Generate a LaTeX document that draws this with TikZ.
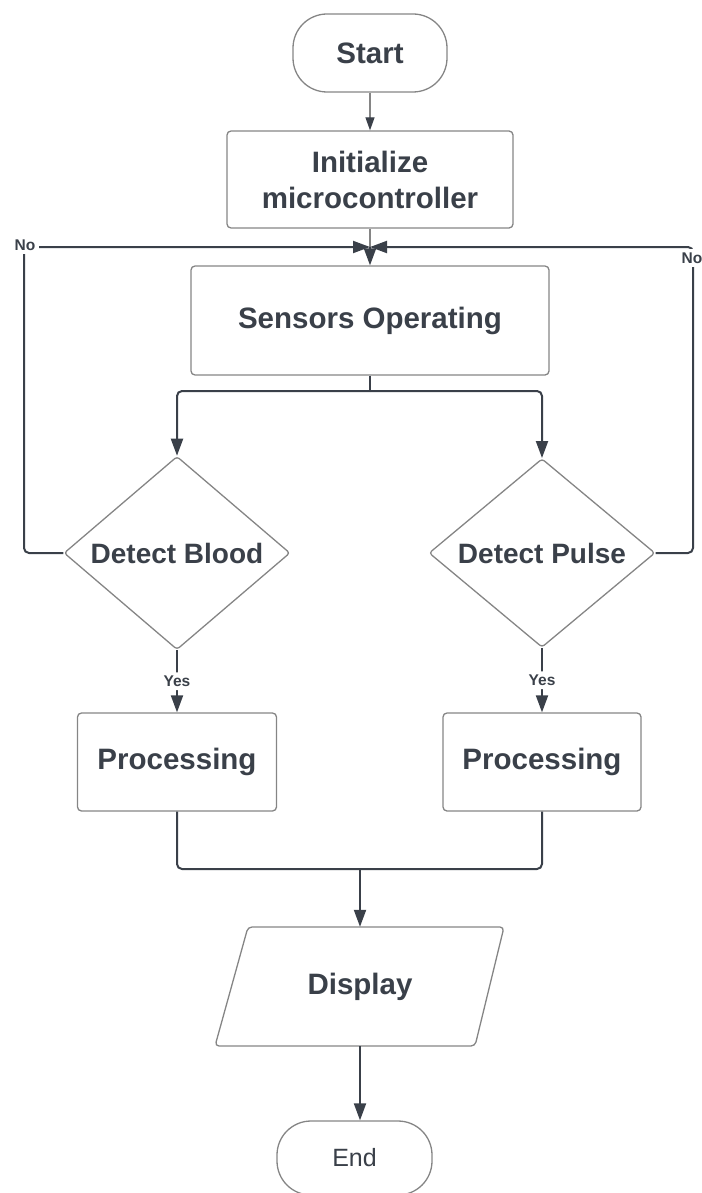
\documentclass[tikz,border=0pt]{standalone}
\usepackage{fontspec}
\setmainfont{Liberation Sans}
\usetikzlibrary{arrows.meta,shapes.geometric}
\definecolor{ink}{HTML}{3A4049}
\definecolor{edge}{HTML}{858585}
\begin{document}
\begin{tikzpicture}[x=1pt,y=-1pt,
  box/.style={draw=edge,line width=1.3pt,rounded corners=4pt,inner sep=0pt,
    text=ink,font=\fontsize{29.5}{36}\selectfont\bfseries,align=center},
  term/.style={box,rounded corners=34pt},
  decision/.style={draw=edge,line width=1.3pt,shape=diamond,rounded corners=3pt,
    inner sep=0pt,text=ink,font=\fontsize{28}{34}\selectfont\bfseries},
  flow/.style={draw=ink,line width=2pt,rounded corners=5pt,
    -{Triangle[length=17pt,width=12pt]}},
  link/.style={draw=ink,line width=2pt,rounded corners=5pt},
  thinflow/.style={draw=edge,line width=1.2pt,
    -{Triangle[length=13pt,width=9pt,color=ink]}},
  tag/.style={fill=white,text=ink,inner sep=3.5pt,
    font=\fontsize{15.5}{18}\selectfont\bfseries},
]
\useasboundingbox (0,0) rectangle (701,1193);

% process steps
\node[term,minimum width=154pt,minimum height=78pt] (start) at (370,53) {Start};
\node[box,minimum width=286pt,minimum height=97pt] (init) at (370,179.5)
  {Initialize\\microcontroller};
\node[box,minimum width=358pt,minimum height=109pt] (sensors) at (370,320.5)
  {Sensors Operating};
\node[decision,minimum width=226pt,minimum height=184pt] (blood) at (177,553)
  {Detect Blood};
\node[decision,minimum width=226pt,minimum height=184pt] (pulse) at (542,553)
  {Detect Pulse};
\node[box,minimum width=199pt,minimum height=98pt] (procL) at (177,762)
  {Processing};
\node[box,minimum width=198pt,minimum height=98pt] (procR) at (542,762)
  {Processing};

% output step: slanted input/output box
\draw[draw=edge,line width=1.3pt,rounded corners=4pt]
  (248,927) -- (504,927) -- (475,1046) -- (215,1046) -- cycle;
\node[inner sep=0pt,minimum width=250pt,minimum height=119pt,text=ink,
  font=\fontsize{29.5}{36}\selectfont\bfseries] (disp) at (360,986.5) {Display};

\node[term,minimum width=155pt,minimum height=74pt,
  font=\fontsize{25}{30}\selectfont] (end) at (354.5,1158) {End};

% routing points
\coordinate (J) at (370,247);
\coordinate (LL) at (24,247);
\coordinate (RR) at (693,247);
\coordinate (S) at (370,391);
\coordinate (M) at (360,869);

% connectors
\draw[thinflow] (start.south) -- (init.north);
\draw[draw=edge,line width=1.2pt] (init.south) -- (J);
\draw[flow] (J) -- (sensors.north);
\draw[flow] (blood.west) -| (LL) -- (J);
\draw[flow] (pulse.east) -| (RR) -- (J);
\draw[link] (sensors.south) -- (S);
\draw[flow] (S) -| (blood.north);
\draw[flow] (S) -| (pulse.north);
\draw[flow] (blood.south) -- node[tag] {Yes} (procL.north);
\draw[flow] (pulse.south) -- node[tag] {Yes} (procR.north);
\draw[link] (procL.south) |- (M);
\draw[link] (procR.south) |- (M);
\draw[flow] (M) -- (disp.north);
\draw[flow] (disp.south) -- (disp.south |- end.north);

% branch labels
\node[tag] at (25,245) {No};
\node[tag] at (692,258) {No};
\end{tikzpicture}
\end{document}
